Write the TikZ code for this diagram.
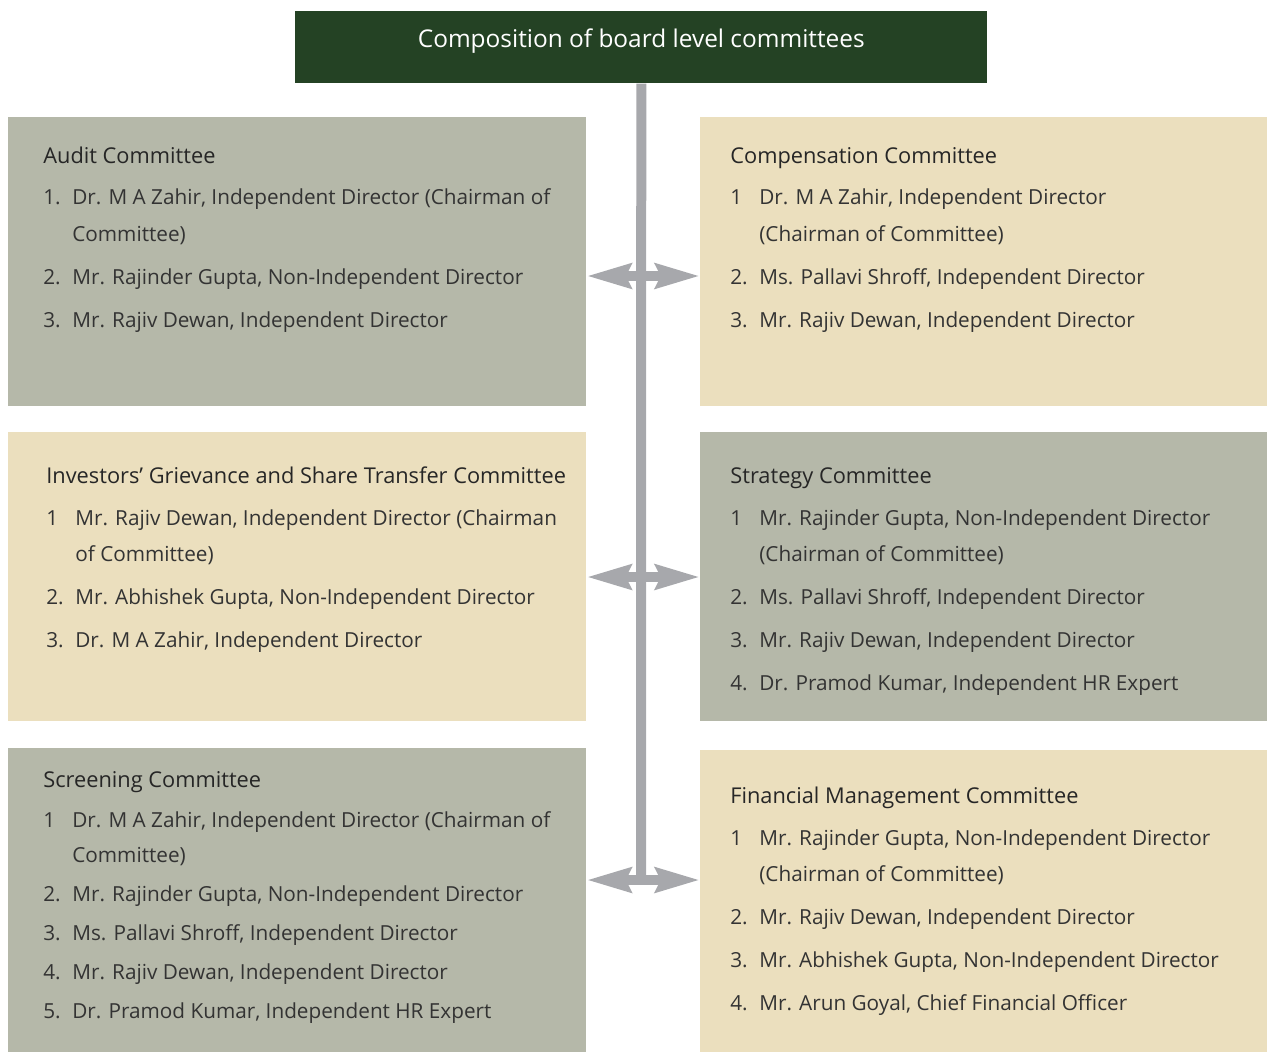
\documentclass[tikz,border=0pt]{standalone}
\usepackage{fontspec}
\setmainfont{Open Sans}
\usetikzlibrary{arrows.meta}
\definecolor{boxgrey}{HTML}{B5B8A9}
\definecolor{boxbeige}{HTML}{EBDFBE}
\definecolor{titlegreen}{HTML}{244224}
\definecolor{bargrey}{HTML}{A7A8AC}
\definecolor{ink}{HTML}{333333}
\newlength{\numw}
\setlength{\numw}{16.5pt}
\newcommand{\headfont}{\fontsize{12.4pt}{20.5pt}\selectfont\color{black!85}}
\tikzset{
        greybox/.style={fill=boxgrey, anchor=north west, inner sep=0pt},
        beigebox/.style={fill=boxbeige, anchor=north west, inner sep=0pt},
        titlebox/.style={fill=titlegreen, anchor=north west, inner sep=0pt},
        titletext/.style={anchor=base, inner sep=0pt, text=white, font=\fontsize{13.9pt}{16pt}\selectfont},
        members/.style={anchor=base west, inner sep=0pt, text=ink, font=\fontsize{11.8pt}{20.5pt}\selectfont},
        bar/.style={draw=bargrey, line width=0.2cm},
        twoway/.style={draw=bargrey, line width=0.2cm,
            {Stealth[length=0.88cm, width=0.48cm, inset=0.1cm]}-{Stealth[length=0.88cm, width=0.48cm, inset=0.1cm]}}
    }

\begin{document}
\begin{tikzpicture}[x=0.02cm, y=-0.02cm]
            \useasboundingbox (0,0) rectangle (1267,1052);

            % boxes
            \node [titlebox, minimum width=13.84cm, minimum height=1.44cm] (title) at (295,11) {};
            \node [greybox, minimum width=11.56cm, minimum height=5.78cm] (audit) at (8,117) {};
            \node [beigebox, minimum width=11.34cm, minimum height=5.78cm] (comp) at (700,117) {};
            \node [beigebox, minimum width=11.56cm, minimum height=5.78cm] (investor) at (8,432) {};
            \node [greybox, minimum width=11.34cm, minimum height=5.78cm] (strategy) at (700,432) {};
            \node [greybox, minimum width=11.56cm, minimum height=6.08cm] (screening) at (8,748) {};
            \node [beigebox, minimum width=11.34cm, minimum height=6.04cm] (finance) at (700,750) {};

            \node [titletext] (heading) at (title.center) {Composition of board level committees};

            % connectors
            \coordinate (joint1) at (641,276);
            \coordinate (joint2) at (641,577);
            \coordinate (joint3) at (641,880);
            \draw [bar] (title.south) -- (joint3);
            \draw [twoway] (audit.east |- joint1) -- (comp.west |- joint1);
            \draw [twoway] (investor.east |- joint2) -- (strategy.west |- joint2);
            \draw [twoway] (screening.east |- joint3) -- (finance.west |- joint3);

            % members
            \node [members] (audit-list) at (43,163) {\begin{tabular}[t]{@{}p{\numw}@{}l@{}}
                \multicolumn{2}{@{}l@{}}{\headfont Audit Committee}\\[3.4pt]
                1. & Dr. M A Zahir, Independent Director (Chairman of\\
                   & Committee)\\[4pt]
                2. & Mr. Rajinder Gupta, Non-Independent Director\\[4pt]
                3. & Mr. Rajiv Dewan, Independent Director
            \end{tabular}};
            \node [members] (comp-list) at (730,163) {\begin{tabular}[t]{@{}p{\numw}@{}l@{}}
                \multicolumn{2}{@{}l@{}}{\headfont Compensation Committee}\\[3.4pt]
                1 & Dr. M A Zahir, Independent Director\\
                  & (Chairman of Committee)\\[4pt]
                2. & Ms. Pallavi Shroff, Independent Director\\[4pt]
                3. & Mr. Rajiv Dewan, Independent Director
            \end{tabular}};
            \node [members] (investor-list) at (46,483) {\begin{tabular}[t]{@{}p{\numw}@{}l@{}}
                \multicolumn{2}{@{}l@{}}{\headfont Investors’ Grievance and Share Transfer Committee}\\[3.4pt]
                1 & Mr. Rajiv Dewan, Independent Director (Chairman\\
                  & of Committee)\\[4pt]
                2. & Mr. Abhishek Gupta, Non-Independent Director\\[4pt]
                3. & Dr. M A Zahir, Independent Director
            \end{tabular}};
            \node [members] (strategy-list) at (730,483) {\begin{tabular}[t]{@{}p{\numw}@{}l@{}}
                \multicolumn{2}{@{}l@{}}{\headfont Strategy Committee}\\[3.4pt]
                1 & Mr. Rajinder Gupta, Non-Independent Director\\
                  & (Chairman of Committee)\\[4pt]
                2. & Ms. Pallavi Shroff, Independent Director\\[4pt]
                3. & Mr. Rajiv Dewan, Independent Director\\[4pt]
                4. & Dr. Pramod Kumar, Independent HR Expert
            \end{tabular}};
            \node [members, font=\fontsize{11.8pt}{19.9pt}\selectfont] (screening-list) at (43,787) {\begin{tabular}[t]{@{}p{\numw}@{}l@{}}
                \multicolumn{2}{@{}l@{}}{\headfont Screening Committee}\\[2.9pt]
                1 & Dr. M A Zahir, Independent Director (Chairman of\\
                  & Committee)\\[2.4pt]
                2. & Mr. Rajinder Gupta, Non-Independent Director\\[2.4pt]
                3. & Ms. Pallavi Shroff, Independent Director\\[2.4pt]
                4. & Mr. Rajiv Dewan, Independent Director\\[2.4pt]
                5. & Dr. Pramod Kumar, Independent HR Expert
            \end{tabular}};
            \node [members] (finance-list) at (730,803) {\begin{tabular}[t]{@{}p{\numw}@{}l@{}}
                \multicolumn{2}{@{}l@{}}{\headfont Financial Management Committee}\\[3.4pt]
                1 & Mr. Rajinder Gupta, Non-Independent Director\\
                  & (Chairman of Committee)\\[4pt]
                2. & Mr. Rajiv Dewan, Independent Director\\[4pt]
                3. & Mr. Abhishek Gupta, Non-Independent Director\\[4pt]
                4. & Mr. Arun Goyal, Chief Financial Officer
            \end{tabular}};
        \end{tikzpicture}
\end{document}
